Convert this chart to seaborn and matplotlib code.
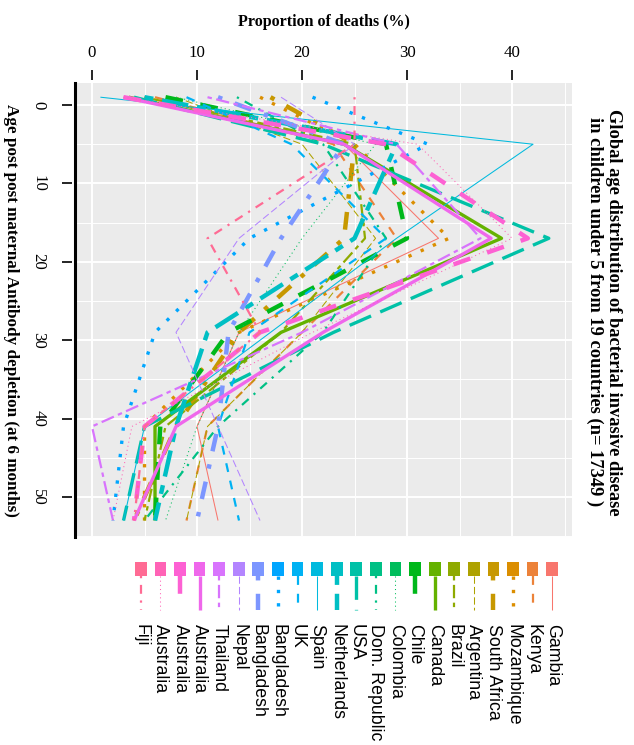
import numpy as np
import pandas as pd
import matplotlib
matplotlib.use('Agg')
import matplotlib.pyplot as plt
import seaborn as sns
from matplotlib.patches import Rectangle

# ============================================================================
# DATA
# ============================================================================

# age points (months post maternal antibody depletion)
ages = [-1, 5, 17, 29, 41, 53]

# legend order, top to bottom of the original legend
study_ids = ['Gambia', 'Kenya', 'Mozambique', 'South Africa', 'Argentina', 'Brazil',
             'Canada', 'Chile', 'Colombia', 'Dom. Republic', 'USA', 'Netherlands',
             'Spain', 'UK', 'Bangladesh 1', 'Bangladesh 2', 'Nepal', 'Thailand',
             'Australia 1', 'Australia 2', 'Australia 3', 'Fiji']
labels = ['Gambia', 'Kenya', 'Mozambique', 'South Africa', 'Argentina', 'Brazil',
          'Canada', 'Chile', 'Colombia', 'Dom. Republic', 'USA', 'Netherlands',
          'Spain', 'UK', 'Bangladesh', 'Bangladesh', 'Nepal', 'Thailand',
          'Australia', 'Australia', 'Australia', 'Fiji']

# proportion of deaths (%) at each age point
gambia = [5, 24, 33, 14, 10, 12]
kenya = [6, 23, 29, 20, 11, 9]
mozambique = [16, 25, 34, 14, 5, 5]
south_africa = [17, 25, 24, 14, 8, 4]
argentina = [8, 20, 27, 20, 11, 9]
brazil = [5, 25, 26, 18, 7, 5]
canada = [3.5, 24, 39, 18, 6, 6]
chile = [7, 28, 30, 13, 6.5, 6]
colombia = [8, 27, 20, 14, 10, 7]
dom_republic = [13.8, 22, 28, 22, 12, 5]
usa = [4, 22, 43.5, 23, 5, 3]
netherlands = [5, 29, 25, 11, 8, 6]
spain = [0.8, 42, 29, 17, 5, 3]
uk = [9, 19, 28, 15, 12, 14]
bangladesh_1 = [21, 32, 15, 6, 3, 2]
bangladesh_2 = [12, 24, 18, 13, 12, 10]
nepal = [18, 25, 14, 8, 12, 16]
thailand = [11, 29, 37, 20, 0, 2]
australia_1 = [3, 24, 38, 22, 8, 4]
australia_2 = [3, 28, 41.5, 16, 5, 4]
australia_3 = [3, 31, 40, 21, 3.8, 2]
fiji = [25, 25, 11, 16, 5, 4]

series = [gambia, kenya, mozambique, south_africa, argentina, brazil, canada, chile,
          colombia, dom_republic, usa, netherlands, spain, uk, bangladesh_1,
          bangladesh_2, nepal, thailand, australia_1, australia_2, australia_3, fiji]

age_ticks = [0, 10, 20, 30, 40, 50]
prop_ticks = [0, 10, 20, 30, 40]

rows = []
for sid, vals in zip(study_ids, series):
    for a, v in zip(ages, vals):
        rows.append({'study': sid, 'age': a, 'deaths': v})
df = pd.DataFrame(rows)

# ============================================================================
# STYLES (ggplot-like hue palette, linetypes and widths)
# ============================================================================

def hcl_color(h, c=100, l=65):
    hr = np.deg2rad(h)
    u, v = c * np.cos(hr), c * np.sin(hr)
    xn, yn, zn = 95.047, 100.0, 108.883
    y = yn * ((l + 16) / 116) ** 3
    den = xn + 15 * yn + 3 * zn
    up = u / (13 * l) + 4 * xn / den
    vp = v / (13 * l) + 9 * yn / den
    x = 9 * y * up / (4 * vp)
    z = y * (12 - 3 * up - 20 * vp) / (4 * vp)
    m = np.array([[3.240479, -1.537150, -0.498535],
                  [-0.969256, 1.875992, 0.041556],
                  [0.055648, -0.204043, 1.057311]])
    rgb = m @ (np.array([x, y, z]) / 100)
    rgb = np.clip(rgb, 0, None)
    rgb = np.where(rgb <= 0.0031308, 12.92 * rgb, 1.055 * rgb ** (1 / 2.4) - 0.055)
    return tuple(np.clip(rgb, 0, 1))

n = len(study_ids)
palette = {sid: hcl_color(15 + i * 360 / n) for i, sid in enumerate(study_ids)}
linetypes = ['', (4, 4), (1, 3), (1, 3, 4, 3), (7, 3), (2, 2, 6, 2)]
widths = [0.75, 1.6, 2.4, 3.2]
dashes = {sid: linetypes[i % 6] for i, sid in enumerate(study_ids)}
sizes = {sid: widths[i % 4] for i, sid in enumerate(study_ids)}

# ============================================================================
# FIGURE
# ============================================================================

sns.set_theme(style='white')
plt.rcParams['font.family'] = ['Liberation Serif', 'DejaVu Serif']
plt.rcParams['text.color'] = 'black'

W, H = 634, 745
fig = plt.figure(figsize=(W / 100, H / 100), dpi=100)
ax = fig.add_axes([75 / W, 1 - 537 / H, 497 / W, 454 / H])
ax.set_facecolor('#EBEBEB')

sns.lineplot(data=df, x='deaths', y='age', hue='study', size='study', style='study',
             hue_order=study_ids, palette=palette, sizes=sizes, dashes=dashes,
             orient='y', sort=False, estimator=None, legend=False, ax=ax,
             dash_capstyle='butt', solid_capstyle='butt')

ax.set_xlim(-1.62, 45.71)
ax.set_ylim(55.1, -2.81)
ax.set_xticks(prop_ticks)
ax.set_xticks([5, 15, 25, 35, 45], minor=True)
ax.set_yticks(age_ticks)
ax.set_yticks([5, 15, 25, 35, 45, 55], minor=True)
ax.grid(which='major', color='white', linewidth=1.4)
ax.grid(which='minor', color='white', linewidth=0.7)
ax.set_axisbelow(True)
ax.set_xlabel('')
ax.set_ylabel('')

for side in ['top', 'right', 'bottom']:
    ax.spines[side].set_visible(False)
ax.spines['left'].set_color('black')
ax.spines['left'].set_linewidth(2.2)

ax.xaxis.tick_top()
ax.tick_params(axis='x', which='both', top=True, bottom=False, length=0,
               pad=16, labelsize=12.2, labelcolor='black')
ax.tick_params(axis='y', which='both', left=False, length=0, labelleft=False)

# tick marks outside the panel (top and left)
xtr = ax.get_xaxis_transform()
ytr = ax.get_yaxis_transform()
for t in prop_ticks:
    ax.plot([t, t], [1.006, 1.028], transform=xtr, clip_on=False,
            color='black', lw=1.2, solid_capstyle='butt', zorder=5)
for t in age_ticks:
    ax.plot([-0.026, -0.006], [t, t], transform=ytr, clip_on=False,
            color='black', lw=1.2, solid_capstyle='butt', zorder=5)
    # age tick labels, rotated like the rest of the chart
    ax.text(-0.074, t, str(t), transform=ytr, rotation=-90,
            ha='center', va='center', fontsize=12.2, color='black')

fig.text(323.5 / W, 1 - 22 / H, 'Proportion of deaths (%)', ha='center', va='center',
         fontsize=11.5, fontweight='bold', color='black')
fig.text(11 / W, 1 - 310 / H, 'Age post post maternal Antibody depletion (at 6 months)',
         rotation=-90, ha='center', va='center', fontsize=12.3, fontweight='bold',
         color='black')
fig.text(604 / W, 1 - 312 / H,
         'Global age distribution of bacterial invasive disease\n'
         'in children under 5 from 19 countries (n= 17349 )',
         rotation=-90, ha='center', va='center', fontsize=13.3, fontweight='bold',
         linespacing=1.15, color='black')

# ============================================================================
# LEGEND (rotated, drawn in its own axes)
# ============================================================================

leg_top, leg_bottom = 555, 745
lg = fig.add_axes([131 / W, 0, 431 / W, (leg_bottom - leg_top) / H])
lg.set_xlim(n - 0.5, -0.5)
lg.set_ylim(leg_bottom - leg_top, 0)
lg.axis('off')

sq_top, sq_h = 562 - leg_top, 14
key_top, key_bottom = 576 - leg_top, 610 - leg_top
text_top = 624 - leg_top
for i, (sid, lab) in enumerate(zip(study_ids, labels)):
    lg.add_patch(Rectangle((i - 0.3, sq_top), 0.6, sq_h, color=palette[sid], lw=0))
    style = dashes[sid]
    kw = {'linestyle': '-'} if style == '' else {'dashes': style}
    lg.plot([i, i], [key_top, key_bottom], color=palette[sid], linewidth=sizes[sid],
            dash_capstyle='butt', solid_capstyle='butt', **kw)
    lg.text(i, text_top, lab, rotation=-90, ha='center', va='top', fontsize=12.8,
            family=['Liberation Sans', 'DejaVu Sans'], color='black')

fig.savefig('out.png', dpi=100)
